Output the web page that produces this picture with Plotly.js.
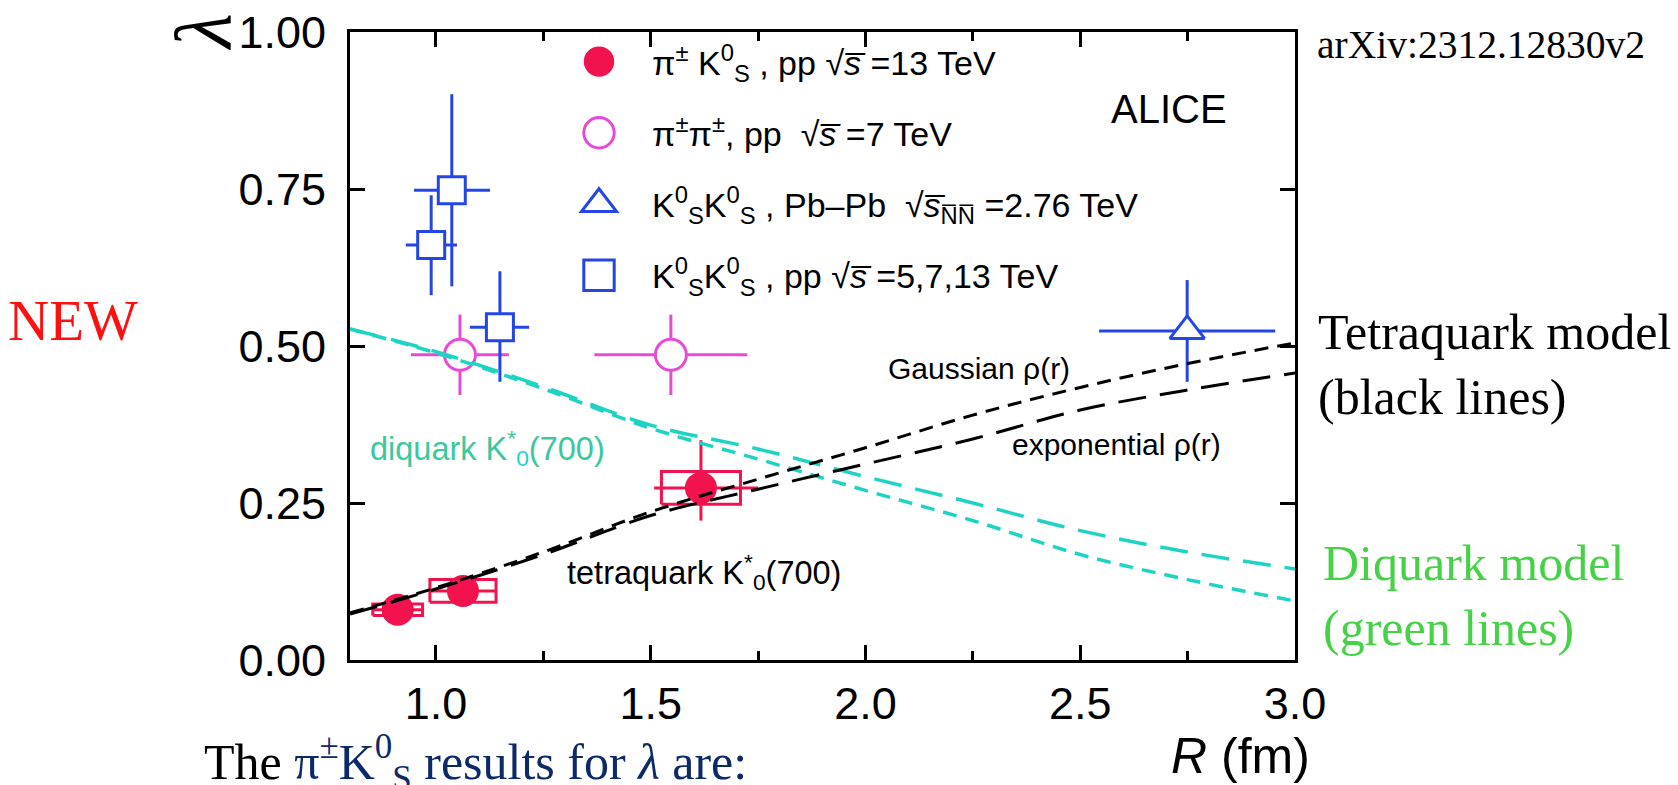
<!DOCTYPE html>
<html><head><meta charset="utf-8">
<script src="https://cdn.plot.ly/plotly-3.0.1.min.js"></script>
<style>html,body{margin:0;padding:0;background:#fff;} #chart{width:1678px;height:785px;}</style>
</head><body><div id="chart"></div>
<script>
// ---------- data ----------
const piK_R = [0.911, 1.063, 1.617];
const piK_lambda = [0.080, 0.110, 0.274];
const piK_statR_minus = [0.056, 0.077, 0.109];
const piK_statR_plus = [0.056, 0.077, 0.133];
const piK_statL_minus = [0.005, 0.006, 0.052];
const piK_statL_plus = [0.005, 0.006, 0.076];
const piK_systR = [0.058, 0.077, 0.092];
const piK_systL = [0.009, 0.018, 0.026];

const pipi_R = [1.056, 1.547];
const pipi_lambda = [0.486, 0.486];
const pipi_errR = [0.114, 0.178];
const pipi_errL = [0.064, 0.064];

const KKPb_R = [2.749];
const KKPb_lambda = [0.524];
const KKPb_errR = [0.205];
const KKPb_errL = [0.081];

const KKpp_R = [0.989, 1.037, 1.149];
const KKpp_lambda = [0.661, 0.748, 0.530];
const KKpp_errR_minus = [0.059, 0.088, 0.070];
const KKpp_errR_plus = [0.060, 0.089, 0.068];
const KKpp_errL_minus = [0.080, 0.153, 0.087];
const KKpp_errL_plus = [0.079, 0.153, 0.089];

const model_R     = [0.8,   1.0,   1.25,  1.5,   1.75,  2.0,   2.25,  2.5,   2.75,  3.0];
const tetra_gauss = [0.075, 0.115, 0.172, 0.236, 0.288, 0.338, 0.390, 0.434, 0.472, 0.505];
const tetra_exp   = [0.073, 0.113, 0.168, 0.230, 0.272, 0.312, 0.352, 0.398, 0.430, 0.457];
const diq_gauss   = [0.527, 0.489, 0.432, 0.369, 0.320, 0.270, 0.222, 0.168, 0.128, 0.094];
const diq_exp     = [0.527, 0.491, 0.435, 0.374, 0.336, 0.292, 0.250, 0.206, 0.172, 0.145];

const OL = '\u0305';  // combining overline for the square-root bar
const legendNames = [
  "π<sup>±</sup> K<sup>0</sup><sub>S</sub> , pp √<i>s" + OL + "</i> =13 TeV",
  "π<sup>±</sup>π<sup>±</sup>, pp \u00a0√<i>s" + OL + "</i> =7 TeV",
  "K<sup>0</sup><sub>S</sub>K<sup>0</sup><sub>S</sub> , Pb–Pb \u00a0√<i>s" + OL + "</i><sub>N" + OL + "N" + OL + "</sub> =2.76 TeV",
  "K<sup>0</sup><sub>S</sub>K<sup>0</sup><sub>S</sub> , pp √<i>s" + OL + "</i> =5,7,13 TeV"
];

// ---------- styling ----------
const RED = '#F2124E', MAG = '#E84AD8', BLUE = '#2446E6', CYAN = '#1CD4C4';
const SANS = 'Liberation Sans, Arial, sans-serif';
const SERIF = 'Liberation Serif, Times New Roman, serif';

// systematic boxes built from the arrays
const boxX = [], boxY = [];
piK_R.forEach((r, i) => {
  const x0 = r - piK_systR[i], x1 = r + piK_systR[i];
  const y0 = piK_lambda[i] - piK_systL[i], y1 = piK_lambda[i] + piK_systL[i];
  boxX.push(x0, x1, x1, x0, x0, null);
  boxY.push(y0, y0, y1, y1, y0, null);
});

const traces = [
  {x: boxX, y: boxY, mode: 'lines', line: {color: RED, width: 3}, showlegend: false, hoverinfo: 'skip'},
  {x: piK_R, y: piK_lambda, mode: 'markers', name: legendNames[0], legendgroup: 'a',
   marker: {symbol: 'circle', size: 32, color: RED},
   error_x: {type: 'data', symmetric: false, array: piK_statR_plus, arrayminus: piK_statR_minus, color: RED, thickness: 3, width: 0},
   error_y: {type: 'data', symmetric: false, array: piK_statL_plus, arrayminus: piK_statL_minus, color: RED, thickness: 3, width: 0}},
  {x: pipi_R, y: pipi_lambda, mode: 'markers', name: legendNames[1], legendgroup: 'b',
   marker: {symbol: 'circle', size: 31, color: 'white', line: {color: MAG, width: 3}},
   error_x: {type: 'data', array: pipi_errR, color: MAG, thickness: 3, width: 0},
   error_y: {type: 'data', array: pipi_errL, color: MAG, thickness: 3, width: 0}},
  {x: KKPb_R, y: KKPb_lambda, mode: 'markers', name: legendNames[2], legendgroup: 'c',
   marker: {symbol: 'triangle-up', size: 30, color: 'white', line: {color: BLUE, width: 3}},
   error_x: {type: 'data', array: KKPb_errR, color: BLUE, thickness: 3, width: 0},
   error_y: {type: 'data', array: KKPb_errL, color: BLUE, thickness: 3, width: 0}},
  {x: KKpp_R, y: KKpp_lambda, mode: 'markers', name: legendNames[3], legendgroup: 'd',
   marker: {symbol: 'square', size: 27, color: 'white', line: {color: BLUE, width: 3}},
   error_x: {type: 'data', symmetric: false, array: KKpp_errR_plus, arrayminus: KKpp_errR_minus, color: BLUE, thickness: 3, width: 0},
   error_y: {type: 'data', symmetric: false, array: KKpp_errL_plus, arrayminus: KKpp_errL_minus, color: BLUE, thickness: 3, width: 0}},
  {x: model_R, y: diq_exp, mode: 'lines', line: {color: CYAN, width: 3.5, dash: '28px,14px', shape: 'spline'}, showlegend: false, hoverinfo: 'skip'},
  {x: model_R, y: diq_gauss, mode: 'lines', line: {color: CYAN, width: 3.5, dash: '14px,9px', shape: 'spline'}, showlegend: false, hoverinfo: 'skip'},
  {x: model_R, y: tetra_exp, mode: 'lines', line: {color: 'black', width: 3, dash: '28px,14px', shape: 'spline'}, showlegend: false, hoverinfo: 'skip'},
  {x: model_R, y: tetra_gauss, mode: 'lines', line: {color: 'black', width: 3, dash: '14px,9px', shape: 'spline'}, showlegend: false, hoverinfo: 'skip'}
];

// pixel -> paper helpers for text placement
const L = 350, R = 1295, T = 32, B = 660;
const px = v => (v - L) / (R - L);
const py = v => (B - v) / (B - T);

function ann(text, x, y, size, opts) {
  return Object.assign({text: text, xref: 'paper', yref: 'paper', x: px(x), y: py(y),
    xanchor: 'left', yanchor: 'middle', align: 'left', showarrow: false,
    font: {family: SANS, size: size, color: 'black'}}, opts || {});
}

const annotations = [
  ann('<i>λ</i>', 203, 32, 80, {xanchor: 'center', textangle: -90, font: {family: SERIF, size: 80, color: 'black'}}),
  ann('arXiv:2312.12830v2', 1315, 45, 39.5, {font: {family: SERIF, size: 39.5, color: 'black'}}),
  ann('ALICE', 1109, 109, 40),
  ann('NEW', 6, 321, 57, {font: {family: SERIF, size: 57, color: '#FF1010'}}),
  ann('Tetraquark model<br>(black lines)', 1316, 364, 50, {font: {family: SERIF, size: 50, color: 'black'}}),
  ann('Diquark model<br>(green lines)', 1321, 595, 50, {font: {family: SERIF, size: 50, color: '#46D246'}}),
  ann('Gaussian ρ(r)', 886, 369, 30),
  ann('exponential ρ(r)', 1010, 444, 30),
  ann('tetraquark K<sup>*</sup><sub>0</sub>(700)', 565, 572, 32.5),
  ann("diquark K<sup>*</sup><sub><span style='color:#1ED2C8'>0</span></sub>(700)", 368, 448, 32.5, {font: {family: SANS, size: 32.5, color: '#3CC89C'}}),
  ann('<i>R</i> (fm)', 1312, 756, 50, {xanchor: 'right'}),
  ann("The <span style='color:#0C2A6A'>π<sup>±</sup>K<sup>0</sup><sub>S</sub> results for <i>λ</i> are:</span>", 202, 762, 50, {font: {family: SERIF, size: 50, color: 'black'}})
];

const axisCommon = {
  showline: true, linecolor: 'black', linewidth: 3, mirror: 'ticks',
  ticks: 'inside', tickcolor: 'black', tickwidth: 3, ticklen: 15,
  showgrid: false, zeroline: false,
  tickfont: {family: SANS, size: 45, color: 'black'}
};

const layout = {
  width: 1678, height: 785,
  margin: {l: L, r: 1678 - R, t: T, b: 785 - B, pad: 0},
  paper_bgcolor: 'white', plot_bgcolor: 'white',
  showlegend: true,
  legend: {x: px(546), y: py(33), xanchor: 'left', yanchor: 'top', bgcolor: 'rgba(0,0,0,0)',
    borderwidth: 0, itemwidth: 96, tracegroupgap: 24, font: {family: SANS, size: 34, color: 'black'}},
  xaxis: Object.assign({}, axisCommon, {range: [0.8, 3.0], dtick: 0.5, tick0: 0, tickformat: '.1f',
    ticklabelstandoff: 2,
    minor: {ticks: 'inside', dtick: 0.25, tick0: 0, ticklen: 9, tickwidth: 3, tickcolor: 'black', showgrid: false}}),
  yaxis: Object.assign({}, axisCommon, {range: [0, 1], dtick: 0.25, tick0: 0, tickformat: '.2f',
    ticklabelstandoff: 12}),
  annotations: annotations
};

Plotly.newPlot('chart', traces, layout, {staticPlot: true}).then(() => {
  // enlarge legend symbols to match the plotted marker size
  document.querySelectorAll('.legend .legendpoints path.scatterpts').forEach(p => {
    const t = p.getAttribute('transform') || '';
    p.setAttribute('transform', t + ' scale(1.9)');
    p.style.vectorEffect = 'non-scaling-stroke';
  });
});
</script>
</body></html>
